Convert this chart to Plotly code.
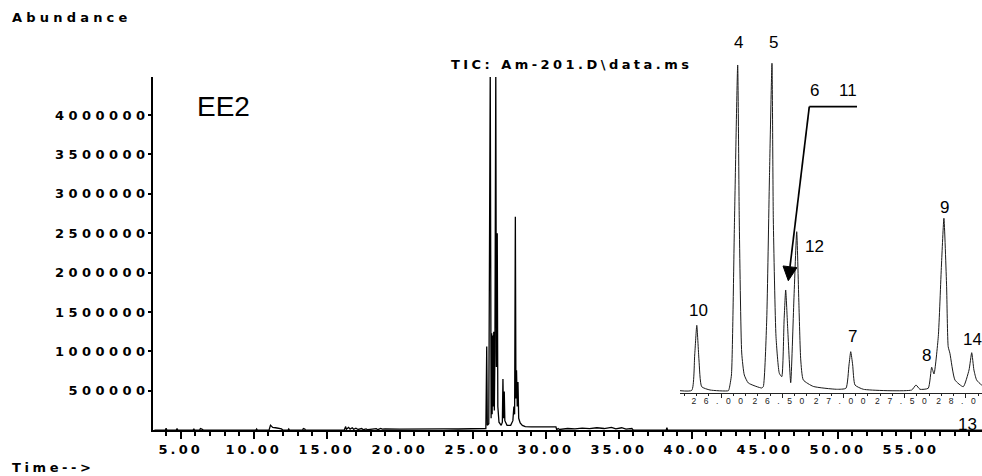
import plotly.graph_objects as go

W, H = 982, 476

# ---------------- data ----------------
# main TIC trace: retention time (min) and abundance
MAIN_TIME = [3.2, 3.95, 4.0, 4.05, 4.7, 4.75, 4.8, 5.85, 5.9, 5.95,
             6.3, 6.35, 6.45, 6.55, 10.15, 10.2, 10.25, 11.05, 11.15, 11.3,
             11.5, 11.7, 11.9, 12.0, 12.35, 12.4, 12.45, 13.35, 13.4, 13.5,
             13.55, 16.2, 16.3, 16.35, 16.5, 16.6, 16.75, 16.85, 17.0, 17.15,
             17.4, 17.5, 17.7, 17.8, 18.4, 18.5, 18.7, 18.8, 19.0, 20.0,
             21.0, 22.0, 23.0, 24.0, 25.0, 25.8, 25.9, 25.96, 26.0, 26.1,
             26.2, 26.26, 26.3, 26.33, 26.37, 26.4, 26.44, 26.48, 26.52, 26.58,
             26.62, 26.68, 26.72, 26.8, 26.95, 27.03, 27.07, 27.11, 27.16, 27.2,
             27.35, 27.6, 27.75, 27.82, 27.87, 27.92, 27.96, 28.0, 28.05, 28.1,
             28.15, 28.25, 28.4, 28.6, 29.0, 30.0, 30.7, 30.75, 30.85, 30.95,
             31.5, 32.0, 32.5, 33.0, 33.5, 34.0, 34.5, 34.8, 35.2, 35.5,
             35.9, 36.0, 38.25, 38.3, 38.35, 59.9]
MAIN_ABUND = [0, 0, 22000, 0, 0, 20000, 0, 0, 18000, 0,
              0, 20000, 12000, 0, 0, 14000, 0, 0, 63000, 35000,
              30000, 25000, 15000, 0, 0, 15000, 0, 0, 20000, 12000,
              0, 0, 45000, 10000, 35000, 12000, 30000, 10000, 25000, 8000,
              20000, 5000, 15000, 5000, 18000, 5000, 22000, 12000, 15000, 13000,
              16000, 14000, 16000, 14000, 16000, 18000, 20000, 1060000, 60000, 80000,
              4600000, 150000, 1230000, 200000, 1200000, 300000, 1250000, 250000, 1000000, 4600000,
              800000, 2500000, 300000, 100000, 60000, 100000, 650000, 150000, 490000, 120000,
              60000, 60000, 120000, 300000, 200000, 2710000, 400000, 760000, 300000, 610000,
              150000, 90000, 60000, 45000, 40000, 40000, 40000, 5000, 20000, 8000,
              20000, 15000, 25000, 18000, 30000, 20000, 35000, 15000, 30000, 12000,
              20000, 0, 0, 30000, 0, 0]

# enlarged inset (25.7 - 28.1 min)
INSET_TIME = [25.665, 25.761, 25.785, 25.802, 25.82, 25.842, 25.91, 26.06,
              26.068, 26.085, 26.11, 26.136, 26.149, 26.169, 26.19, 26.223, 26.332,
              26.345, 26.373, 26.395, 26.416, 26.427, 26.449, 26.476, 26.496,
              26.515, 26.528, 26.545, 26.569,
              26.595, 26.618, 26.635, 26.651, 26.672, 26.753, 26.944,
              27.02, 27.045, 27.059, 27.075, 27.094, 27.162, 27.557,
              27.592, 27.624, 27.692,
              27.72, 27.739, 27.774, 27.80, 27.82, 27.842, 27.855, 27.869, 27.91, 27.978,
              28.025, 28.047, 28.065, 28.087, 28.128, 28.2]
INSET_ABUND = [0, 5000, 500000, 915000, 430000, 56000, 10000, 0,
               38000, 220000, 2390000, 4560000, 2390000, 528000, 220000, 108000, 38000,
               56000, 990000, 2950000, 4584000, 2390000, 756000, 244000, 196000,
               990000, 1410000, 850000, 112000,
               1270000, 2226000, 1270000, 430000, 150000, 60000, 20000,
               34000, 360000, 546000, 360000, 80000, 20000, 10000,
               80000, 20000, 34000,
               328000, 234000, 756000, 1760000, 2414000, 1456000, 616000, 524000, 150000, 56000,
               290000, 532000, 290000, 150000, 80000, 40000]

X_TICKS = [5, 10, 15, 20, 25, 30, 35, 40, 45, 50, 55]
X_TICK_TEXT = ["5.00", "10.00", "15.00", "20.00", "25.00", "30.00",
               "35.00", "40.00", "45.00", "50.00", "55.00"]
Y_TICKS = [500000, 1000000, 1500000, 2000000, 2500000, 3000000, 3500000, 4000000]
Y_TICK_TEXT = ["500000", "1000000", "1500000", "2000000", "2500000",
               "3000000", "3500000", "4000000"]
INSET_TICKS = [26.0, 26.5, 27.0, 27.5, 28.0]
INSET_TICK_TEXT = ["26.00", "26.50", "27.00", "27.50", "28.00"]

PEAK_LABELS = ["4", "5", "6", "11", "12", "10", "7", "8", "9", "14", "13"]
SAMPLE = "EE2"
TIC_TITLE = "TIC: Am-201.D\\data.ms"
Y_TITLE = "Abundance"
X_TITLE = "Time-->"

# ---------------- layout helpers (pixel -> paper) ----------------
def px(x):
    return x / W


def py(y):
    return 1 - y / H


PIX_FONT = dict(family="DejaVu Sans", size=13, color="black", weight="bold")

fig = go.Figure()
fig.add_trace(go.Scatter(x=MAIN_TIME, y=MAIN_ABUND, mode="lines",
                         line=dict(color="black", width=1.3),
                         xaxis="x", yaxis="y", hoverinfo="skip"))
fig.add_trace(go.Scatter(x=INSET_TIME, y=INSET_ABUND, mode="lines",
                         line=dict(color="#1a1a1a", width=1, shape="spline",
                                   smoothing=0.5),
                         xaxis="x2", yaxis="y2", hoverinfo="skip"))

fig.update_layout(
    width=W, height=H, margin=dict(l=0, r=0, t=0, b=0),
    paper_bgcolor="white", plot_bgcolor="white", showlegend=False,
    xaxis=dict(domain=[px(153), 1], range=[3.103, 59.88], anchor="y",
               showline=True, linecolor="black", linewidth=2,
               ticks="outside", ticklen=7, tickwidth=1.5, tickcolor="black",
               tickmode="array", tickvals=X_TICKS, ticktext=X_TICK_TEXT,
               tickangle=0, tickfont=PIX_FONT, ticklabelstandoff=-1,
               minor=dict(tick0=0, dtick=1, ticks="outside", ticklen=4,
                          tickwidth=1.5, tickcolor="black", showgrid=False),
               showgrid=False, zeroline=False),
    yaxis=dict(domain=[py(430.1), py(77)], range=[0, 4.483e6], anchor="x",
               showline=True, linecolor="black", linewidth=2,
               ticks="outside", ticklen=3, tickwidth=1.5, tickcolor="black",
               tickmode="array", tickvals=Y_TICKS, ticktext=Y_TICK_TEXT,
               tickfont=PIX_FONT, ticklabelstandoff=-4,
               showgrid=False, zeroline=False),
    xaxis2=dict(domain=[px(680), 1], range=[25.665, 28.131], anchor="y2",
                showline=True, linecolor="#222", linewidth=1,
                ticks="outside", ticklen=4, tickwidth=1, tickcolor="#222",
                tickmode="array", tickvals=INSET_TICKS, ticktext=INSET_TICK_TEXT,
                tickangle=0, ticklabelstandoff=-4,
                tickfont=dict(family="Liberation Sans", size=8.5, color="#222"),
                minor=dict(tick0=0, dtick=0.1, ticks="outside", ticklen=2,
                           tickwidth=1, tickcolor="#222", showgrid=False),
                showgrid=False, zeroline=False),
    yaxis2=dict(domain=[py(392.7), py(60)], range=[-28000, 4629800],
                anchor="x2", visible=False),
)

annotations = []


def label(text, x, y, size=17, family="Liberation Sans", xanchor="center",
          font=None):
    f = font if font is not None else dict(family=family, size=size, color="black")
    annotations.append(dict(text=text, x=px(x), y=py(y), xref="paper",
                            yref="paper", showarrow=False, xanchor=xanchor,
                            yanchor="middle",
                            align="left" if xanchor == "left" else "center",
                            font=f))


label(Y_TITLE, 10, 18, xanchor="left", font=PIX_FONT)
label(X_TITLE, 10, 467, xanchor="left", font=PIX_FONT)
label(TIC_TITLE, 449, 64.5, xanchor="left", font=PIX_FONT)
label(SAMPLE, 223.5, 106.5, size=28)

peak_pos = {
    "4": (738.3, 42.5, "center"), "5": (773.3, 42.5, "center"),
    "6": (814.3, 90, "center"), "11": (848, 90, "center"),
    "12": (814.5, 246.5, "center"), "10": (698.3, 310.5, "center"),
    "7": (852.2, 336, "center"), "8": (926.2, 355.5, "center"),
    "9": (944, 207.5, "center"), "14": (961, 339, "left"),
    "13": (956, 424, "left"),
}
for name in PEAK_LABELS:
    x, y, anc = peak_pos[name]
    label(name, x, y, size=17, xanchor=anc)

fig.update_layout(annotations=annotations)

# leader line and arrow for peak 6
tail = (809.3, 106.7)
tip = (788.3, 280.7)
ux, uy = tip[0] - tail[0], tip[1] - tail[1]
n = (ux ** 2 + uy ** 2) ** 0.5
ux, uy = ux / n, uy / n
base = (tip[0] - 14 * ux, tip[1] - 14 * uy)
perp = (-uy, ux)
c1 = (base[0] + 7 * perp[0], base[1] + 7 * perp[1])
c2 = (base[0] - 7 * perp[0], base[1] - 7 * perp[1])
shapes = [
    dict(type="line", xref="paper", yref="paper", x0=px(tail[0]), y0=py(tail[1]),
         x1=px(857), y1=py(tail[1]), line=dict(color="black", width=1.7)),
    dict(type="line", xref="paper", yref="paper", x0=px(tail[0]), y0=py(tail[1]),
         x1=px(base[0]), y1=py(base[1]), line=dict(color="black", width=1.7)),
    dict(type="path", xref="paper", yref="paper",
         path="M {:.5f},{:.5f} L {:.5f},{:.5f} L {:.5f},{:.5f} Z".format(
             px(tip[0]), py(tip[1]), px(c1[0]), py(c1[1]), px(c2[0]), py(c2[1])),
         fillcolor="black", line=dict(color="black", width=1)),
]
fig.update_layout(shapes=shapes)

post = """
var gd = document.getElementById('{plot_id}');
function ls(nodes, v){ for (var i = 0; i < nodes.length; i++){ nodes[i].style.letterSpacing = v; } }
ls(gd.querySelectorAll('.xaxislayer-above .xtick text'), '3.1px');
ls(gd.querySelectorAll('.yaxislayer-above .ytick text'), '4.45px');
ls(gd.querySelectorAll('.xaxislayer-above .x2tick text'), '7.6px');
var wide = {'Abundance': '4.2px', 'Time-->': '3.6px', 'TIC: Am-201.D\\\\data.ms': '3.45px'};
var anns = gd.querySelectorAll('.annotation-text');
for (var i = 0; i < anns.length; i++){
  var t = anns[i].textContent;
  if (wide.hasOwnProperty(t)) { anns[i].style.letterSpacing = wide[t]; }
}
"""

fig.write_html("out.html", post_script=post)
